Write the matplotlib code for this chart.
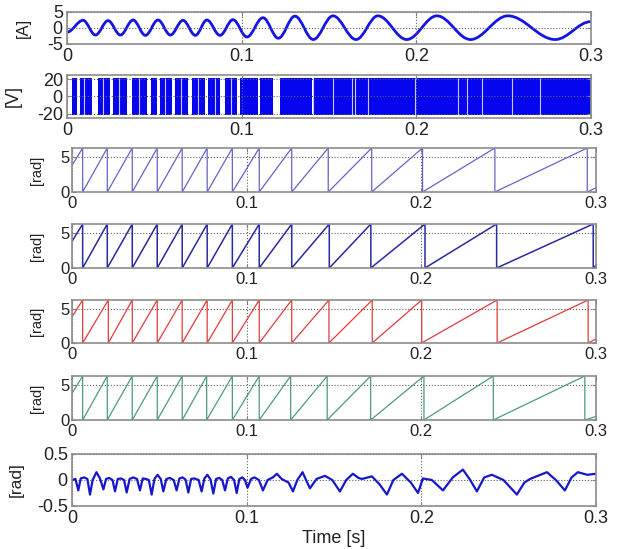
# stacked drive signals: current, voltage, rotor angles, angle error
import numpy as np
import matplotlib
matplotlib.use('Agg')
import matplotlib.pyplot as plt
from matplotlib.path import Path
from matplotlib.patches import PathPatch

plt.rcParams['font.family'] = ['Liberation Sans', 'DejaVu Sans']

TWO_PI = 2 * np.pi

# ---- data ----
# phase current [A]: extremes of the waveform
cur_t = [0.0, 0.0092, 0.0163, 0.0235, 0.0306, 0.0378, 0.0449, 0.0521, 0.0592, 0.0664,
         0.0735, 0.0801, 0.0876, 0.0950, 0.1030, 0.1122, 0.1210, 0.1305, 0.1410,
         0.1523, 0.1655, 0.1780, 0.1945, 0.2118, 0.2310, 0.2524, 0.2795, 0.3]
cur_v = [-1.3, 2.4, -2.2, 2.3, -2.2, 2.5, -2.3, 2.5, -2.2, 2.4,
         -2.3, 2.5, -2.3, 2.6, -2.8, 3.2, -3.2, 3.7, -3.6,
         3.8, -3.6, 3.8, -3.6, 3.8, -3.6, 3.8, -3.6, 2.0]

# PWM voltage [V]: band level and the white gaps between pulse bursts
volt_level = 22
gap_start = [0.0, 0.0057, 0.0143, 0.0246, 0.0343, 0.0458, 0.0515, 0.0601, 0.0693,
             0.0790, 0.0876, 0.0973, 0.1093, 0.1179, 0.1403]
gap_end = [0.0029, 0.0074, 0.0178, 0.0263, 0.0372, 0.0481, 0.0532, 0.0618, 0.0715,
           0.0807, 0.0904, 0.0990, 0.1105, 0.1219, 0.1414]
thin_gaps = [0.0100, 0.0205, 0.0300, 0.0415, 0.0560, 0.0650, 0.0750, 0.0850, 0.0940,
             0.1408, 0.1522, 0.1631, 0.1648, 0.1722, 0.1992, 0.2238, 0.2290, 0.2376,
             0.2548, 0.2708]

# angle wraps [s] (sawtooth resets) for the four angle panels
wrap_a = [0.0061, 0.0202, 0.0345, 0.0488, 0.0631, 0.0774, 0.0918, 0.1072, 0.1258,
          0.1467, 0.1716, 0.2007, 0.2421, 0.2950]
wrap_b = [0.0061, 0.0202, 0.0345, 0.0488, 0.0631, 0.0774, 0.0918, 0.1072, 0.1258,
          0.1473, 0.1711, 0.2021, 0.2431, 0.2984]
wrap_c = [0.0061, 0.0208, 0.0345, 0.0488, 0.0631, 0.0774, 0.0918, 0.1072, 0.1258,
          0.1471, 0.1719, 0.2002, 0.2434, 0.2955]
wrap_d = [0.0061, 0.0202, 0.0345, 0.0488, 0.0631, 0.0771, 0.0918, 0.1072, 0.1252,
          0.1461, 0.1710, 0.2015, 0.2412, 0.2936]
start_a, end_a = 3.8, 0.6
start_b, end_b = 3.8, 0.4
start_c, end_c = 3.8, 0.6
start_d, end_d = 3.8, 0.5

# angle error [rad]
err_t = [0.0, 0.0020, 0.0036, 0.0050, 0.0070, 0.0088, 0.0103, 0.0118, 0.0140, 0.0160,
         0.0180, 0.0195, 0.0213, 0.0232, 0.0246, 0.0262, 0.0280, 0.0298, 0.0313, 0.0330,
         0.0350, 0.0372, 0.0389, 0.0405, 0.0423, 0.0440, 0.0456, 0.0472, 0.0490, 0.0508,
         0.0523, 0.0540, 0.0560, 0.0582, 0.0599, 0.0615, 0.0633, 0.0650, 0.0666, 0.0682,
         0.0700, 0.0725, 0.0742, 0.0758, 0.0775, 0.0793, 0.0809, 0.0825, 0.0843, 0.0860,
         0.0876, 0.0892, 0.0910, 0.0928, 0.0943, 0.0958, 0.0975, 0.0990, 0.1005, 0.1025,
         0.1045, 0.1070, 0.1093, 0.1120, 0.1150, 0.1173, 0.1200, 0.1240, 0.1265, 0.1290,
         0.1320, 0.1340, 0.1362, 0.1400, 0.1448, 0.1490, 0.1534, 0.1570, 0.1608, 0.1640,
         0.1660, 0.1717, 0.1760, 0.1803, 0.1840, 0.1889, 0.1940, 0.1981, 0.2009, 0.2060,
         0.2124, 0.2180, 0.2238, 0.2280, 0.2318, 0.2360, 0.2404, 0.2470, 0.2547, 0.2590,
         0.2622, 0.2719, 0.2770, 0.2822, 0.2860, 0.2896, 0.2950, 0.3]
err_v = [0.0, 0.02, -0.20, 0.03, 0.05, 0.02, -0.28, 0.0, 0.15, 0.03,
         -0.18, 0.02, 0.04, 0.0, -0.22, 0.02, 0.03, 0.0, -0.24, 0.02,
         0.05, 0.02, -0.20, 0.03, 0.02, 0.0, -0.28, 0.02, 0.10, 0.02,
         -0.22, 0.02, 0.04, 0.0, -0.20, 0.03, 0.05, 0.01, -0.24, 0.02,
         0.03, 0.0, -0.22, 0.03, 0.10, 0.01, -0.26, 0.02, 0.04, 0.0,
         -0.20, 0.03, 0.06, 0.0, -0.25, 0.02, 0.05, 0.0, -0.15, 0.02,
         0.05, 0.0, -0.20, 0.0, 0.05, 0.12, 0.02, -0.05, -0.22, 0.0,
         0.15, 0.0, -0.16, 0.02, 0.08, 0.0, -0.22, 0.0, 0.12, 0.04,
         0.02, 0.07, -0.08, -0.28, 0.0, 0.12, -0.05, -0.25, 0.03, 0.0,
         -0.20, 0.05, 0.20, 0.0, -0.22, 0.05, 0.10, 0.0, -0.28, -0.05,
         0.02, 0.15, 0.0, -0.20, 0.05, 0.15, 0.10, 0.12]

xticks = [0, 0.1, 0.2, 0.3]
xticklabels = ['0', '0.1', '0.2', '0.3']

# ---- figure ----
fig = plt.figure(figsize=(6.17, 5.49), dpi=100)


def px_axes(l, r, t, b):
    return fig.add_axes([l / 617, 1 - b / 549, (r - l) / 617, (b - t) / 549])


def style(ax, yticks, ylabel, lab_x, fs_tick, fs_lab, ypad=3):
    ax.set_xlim(0, 0.3)
    ax.set_xticks(xticks)
    ax.set_xticklabels(xticklabels)
    ax.set_yticks(yticks)
    ax.set_yticklabels([('%g' % v) for v in yticks])
    ax.tick_params(direction='in', length=3, color='#808080', labelcolor='#222222',
                   labelsize=fs_tick, top=True, right=True)
    ax.tick_params(axis='x', pad=3)
    ax.tick_params(axis='y', pad=ypad)
    for s in ax.spines.values():
        s.set_color('#8c8c8c')
        s.set_linewidth(1.2)
    ax.grid(True, linestyle=':', color='#606060', linewidth=0.8)
    ax.set_ylabel(ylabel, fontsize=fs_lab, color='#222222')
    ax.yaxis.set_label_coords(lab_x, 0.5)


def smooth_path(ts, vs, k=0.36):
    verts = [(ts[0], vs[0])]
    codes = [Path.MOVETO]
    for i in range(1, len(ts)):
        d = ts[i] - ts[i - 1]
        verts += [(ts[i - 1] + k * d, vs[i - 1]), (ts[i] - k * d, vs[i]), (ts[i], vs[i])]
        codes += [Path.CURVE4] * 3
    return Path(verts, codes)


def saw(resets, y0, y1):
    xs, ys = [0.0], [y0]
    for r in resets:
        xs += [r, r]
        ys += [TWO_PI, 0.0]
    xs.append(0.3)
    ys.append(y1)
    return xs, ys


# current
ax1 = px_axes(67, 591, 12, 44)
ax1.add_patch(PathPatch(smooth_path(cur_t, cur_v), fill=False, edgecolor='#1414e6', lw=2.0))
ax1.set_ylim(-5, 5)
style(ax1, [-5, 0, 5], '[A]', -0.069, 13, 12)

# voltage: blocks run from each gap end to the next gap start
ax2 = px_axes(67, 591, 75, 118)
blk_lo = gap_end
blk_hi = gap_start[1:] + [0.3]
for lo, hi in zip(blk_lo, blk_hi):
    ax2.fill_between([lo, hi], [-volt_level, -volt_level], [volt_level, volt_level],
                     color='#0505ee', lw=0)
ax2.vlines(thin_gaps, -volt_level, volt_level, color='#c8c8f0', lw=0.8)
ax2.set_ylim(-25, 25)
style(ax2, [-20, 0, 20], '[V]', -0.086, 13, 13)

# angles
saw_panels = [
    (148, 192, wrap_a, start_a, end_a, '#6464c8', 0.9),
    (224, 268, wrap_b, start_b, end_b, '#2a2aa0', 1.1),
    (300, 343, wrap_c, start_c, end_c, '#e03c3c', 0.9),
    (376, 420, wrap_d, start_d, end_d, '#4c9a80', 0.9),
]
for top, bot, wr, y0, y1, col, lw in saw_panels:
    ax = px_axes(72, 596, top, bot)
    xs, ys = saw(wr, y0, y1)
    ax.plot(xs, ys, color=col, lw=lw)
    ax.set_ylim(0, TWO_PI)
    style(ax, [0, 5], '[rad]', -0.053, 12, 10.5, ypad=2)

# angle error
ax7 = px_axes(72, 596, 454, 506)
ax7.plot(err_t, err_v, color='#1616cc', lw=1.6)
ax7.set_ylim(-0.5, 0.5)
style(ax7, [-0.5, 0, 0.5], '[rad]', -0.092, 13, 12.5)
ax7.set_xlabel('Time [s]', fontsize=13, color='#222222', labelpad=2)

fig.savefig('out.png', dpi=100)
